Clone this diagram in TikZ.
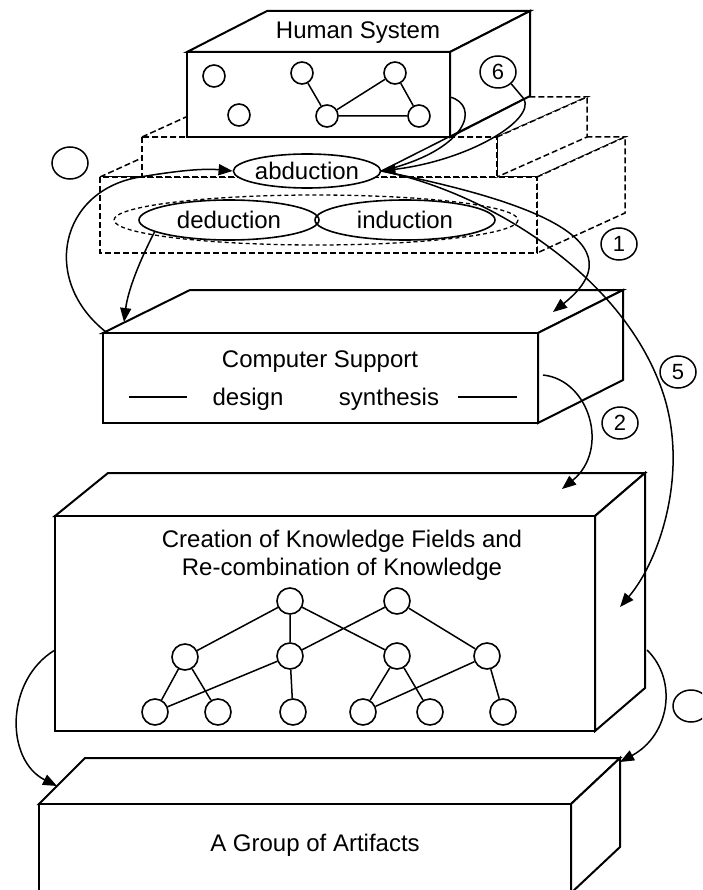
\documentclass[tikz,border=0pt]{standalone}
\usepackage{fontspec}
\setmainfont{Liberation Sans}
\usetikzlibrary{arrows.meta,shapes.geometric}
\begin{document}
\begin{tikzpicture}[x=1pt,y=-1pt,
  box/.style={line width=2pt, fill=white, line join=miter},
  dbox/.style={dash pattern=on 6pt off 3pt, line width=1.5pt, fill=white},
  arc/.style={line width=1.5pt},
  arr/.style={arc, -{Triangle[length=14pt,width=11pt]}},
  lbl/.style={font=\fontsize{24}{28}\selectfont, inner sep=0pt, anchor=base},
  num/.style={draw, ellipse, line width=1.5pt, minimum width=36pt, minimum height=32pt, inner sep=0pt, font=\fontsize{22}{26}\selectfont, fill=white},
  tn/.style={draw, circle, line width=1.6pt, minimum size=26pt, inner sep=0pt, fill=white},
  hn/.style={draw, circle, line width=1.6pt, minimum size=22pt, inner sep=0pt, fill=white},
  oval/.style={draw, ellipse, line width=1.6pt, inner sep=0pt, font=\fontsize{24}{28}\selectfont}
]
\useasboundingbox (0,0) rectangle (702,890);
\clip (0,0) rectangle (702,890);
\fill[white] (0,0) rectangle (702,890);

% ---- dashed reasoning box: lower step
\draw[dbox] (100,177) -- (188,137) -- (625,137) -- (537,177) -- cycle;
\draw[dbox] (537,177) -- (625,137) -- (625,213) -- (537,253) -- cycle;
\draw[dbox] (100,177) rectangle (537,253);
% upper step
\draw[dbox] (142,137) -- (230,97) -- (587,97) -- (497,137) -- cycle;
\draw[dbox] (497,137) -- (587,97) -- (587,137) -- (497,177) -- cycle;
\draw[dbox] (142,137) rectangle (497,177);

% ---- Human System box
\draw[box] (187,52) -- (267,11) -- (530,11) -- (450,52) -- cycle;
\draw[box] (450,52) -- (530,11) -- (530,96) -- (450,137) -- cycle;
\draw[box] (187,52) rectangle (450,137);
\node[lbl] (hs) at (358,39) {Human System};
\node[hn] (h1) at (214,76) {};
\node[hn] (h2) at (302,73) {};
\node[hn] (h3) at (395,73) {};
\node[hn] (h4) at (239,115) {};
\node[hn] (h5) at (327,116) {};
\node[hn] (h6) at (419,116) {};
\draw[arc] (h2) -- (h5) (h5) -- (h3) (h5) -- (h6) (h3) -- (h6);

% ---- reasoning ellipses
\draw[dash pattern=on 4pt off 3pt, line width=1.3pt] (316,220) ellipse [x radius=202, y radius=25];
\node[oval, minimum width=180pt, minimum height=40pt] (ded) at (229,220) {deduction};
\node[oval, minimum width=180pt, minimum height=40pt] (ind) at (405,220) {induction};
\node[oval, fill=white, minimum width=136pt, minimum height=34pt] (abd) at (307,171) {abduction};

% ---- Computer Support box
\draw[box] (103,333) -- (190,290) -- (623,290) -- (538,333) -- cycle;
\draw[box] (538,333) -- (623,290) -- (623,380) -- (538,423) -- cycle;
\draw[box] (103,333) rectangle (538,423);
\node[lbl] (cs) at (320,367) {Computer Support};
\node[lbl] (dsg) at (248,405) {design};
\node[lbl] (syn) at (389,405) {synthesis};
\coordinate (dl1) at (129,397); \coordinate (dl2) at (187,397);
\coordinate (sl1) at (458,397); \coordinate (sl2) at (517,397);
\draw[line width=1.6pt] (dl1) -- (dl2) (sl1) -- (sl2);

% ---- Creation box
\draw[box] (55,516) -- (108,473) -- (645,473) -- (595,516) -- cycle;
\draw[box] (595,516) -- (645,473) -- (645,688) -- (595,731) -- cycle;
\draw[box] (55,516) rectangle (595,731);
\node[lbl] (cr1) at (342,547) {Creation of Knowledge Fields and};
\node[lbl] (cr2) at (342,575) {Re-combination of Knowledge};
\node[tn] (t1) at (290,601) {};
\node[tn] (t2) at (397,601) {};
\node[tn] (m1) at (185,657) {};
\node[tn] (m2) at (290,656) {};
\node[tn] (m3) at (397,656) {};
\node[tn] (m4) at (487,656) {};
\node[tn] (b1) at (155,712) {};
\node[tn] (b2) at (218,712) {};
\node[tn] (b3) at (293,712) {};
\node[tn] (b4) at (363,712) {};
\node[tn] (b5) at (430,712) {};
\node[tn] (b6) at (503,712) {};
\draw[arc] (t1) -- (m1) (t1) -- (m2) (t1) -- (m3) (t2) -- (m2) (t2) -- (m4)
  (m1) -- (b1) (m1) -- (b2) (m2) -- (b1) (m2) -- (b3)
  (m3) -- (b4) (m3) -- (b5) (m4) -- (b4) (m4) -- (b6);

% ---- Artifacts box
\draw[box] (39,804) -- (85,758) -- (620,758) -- (571,804) -- cycle;
\draw[box] (571,804) -- (620,758) -- (620,847) -- (571,893) -- cycle;
\draw[box] (39,804) rectangle (571,900);
\node[lbl] (art) at (315,851) {A Group of Artifacts};

% ---- number labels
\node[num] (n6) at (498,72) {6};
\node[num] (n1) at (619,244) {1};
\node[num] (n5) at (678,372) {5};
\node[num] (n2) at (620,423) {2};
\node[num] (e1) at (70,163) {};
\node[num] (e2) at (691,706) {};

% ---- connectors
\coordinate (j6) at (524,99);
\coordinate (hsR) at (450,97);
\coordinate (csTL) at (106,332);
\coordinate (dedOut) at (155,231);
\coordinate (csTop) at (124,322);
\coordinate (c1end) at (553,312);
\coordinate (c5end) at (620,607);
\coordinate (csR) at (543,375);
\coordinate (c2end) at (562,489);
\coordinate (crL) at (55,650);
\coordinate (crR) at (647,650);
\coordinate (aL) at (57,786);
\coordinate (aR) at (620,762);

\draw[arc] (n6.south east) -- (j6);
\draw[arc] (j6) -- (abd.east);
\draw[arr] (j6) .. controls (535,120) and (470,160) .. (abd.east);
\draw[arc] (hsR) .. controls (480,105) and (470,150) .. (abd.east);
\draw[arr] (csTL) .. controls (40,280) and (60,190) .. (140,177) .. controls (170,172) and (200,168) .. (abd.west);
\draw[arr] (dedOut) .. controls (140,260) and (128,290) .. (csTop);
\draw[arr] (abd.east) .. controls (500,195) and (650,235) .. (c1end);
\draw[arr] (abd.east) .. controls (480,190) and (620,270) .. (662,390) .. controls (690,470) and (660,560) .. (c5end);
\draw[arr] (csR) .. controls (590,380) and (610,450) .. (c2end);
\draw[arr] (crL) .. controls (5,680) and (5,760) .. (aL);
\draw[arr] (crR) .. controls (678,680) and (670,735) .. (aR);
\end{tikzpicture}
\end{document}
